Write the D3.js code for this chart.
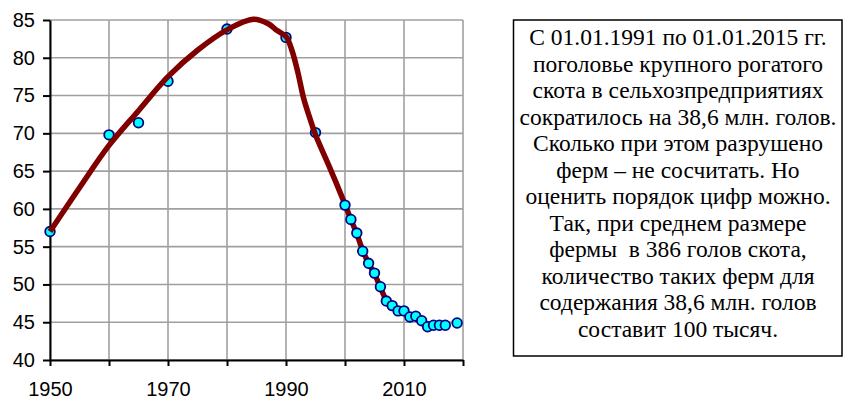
<!DOCTYPE html>
<html>
<head>
<meta charset="utf-8">
<script src="https://cdn.jsdelivr.net/npm/d3@7"></script>
<style>
  body { margin: 0; background: #fff; }
  svg { display: block; }
</style>
</head>
<body>
<div id="chart"></div>
<script>
const width = 843;
const height = 401;

// cattle head count, mln
const years = [1950, 1960, 1965, 1970, 1980, 1990, 1995,
  2000, 2001, 2002, 2003, 2004, 2005, 2006, 2007, 2008, 2009,
  2010, 2011, 2012, 2013, 2014, 2015, 2016, 2017, 2019];
const values = [57.0, 69.8, 71.4, 76.9, 83.8, 82.7, 70.1,
  60.5, 58.6, 56.8, 54.4, 52.8, 51.5, 49.7, 47.8, 47.2, 46.5,
  46.5, 45.7, 45.8, 45.2, 44.4, 44.6, 44.6, 44.6, 44.9];

// smoothed trend curve
const trendYears = [1950, 1955, 1960, 1965, 1970, 1975, 1980, 1984.5, 1987, 1988.5, 1990,
  1991, 1992, 1993, 1994, 1995, 1997.5, 2000, 2001, 2002, 2003, 2004, 2005, 2006, 2007];
const trendValues = [57.0, 62.8, 68.4, 73.0, 77.5, 81.0, 83.7, 85.1, 84.5, 83.6, 82.8,
  81.0, 78.1, 74.6, 72.1, 69.8, 65.3, 60.6, 58.6, 56.7, 54.5, 52.8, 51.4, 49.6, 47.8];

const xTicks = [1950, 1960, 1970, 1980, 1990, 2000, 2010, 2020];
const xLabels = [1950, 1970, 1990, 2010];
const yTicks = [40, 45, 50, 55, 60, 65, 70, 75, 80, 85];

const noteLines = [
  "С 01.01.1991 по 01.01.2015 гг.",
  "поголовье крупного рогатого",
  "скота в сельхозпредприятиях",
  "сократилось на 38,6 млн. голов.",
  "Сколько при этом разрушено",
  "ферм – не сосчитать. Но",
  "оценить порядок цифр можно.",
  "Так, при среднем размере",
  "фермы  в 386 голов скота,",
  "количество таких ферм для",
  "содержания 38,6 млн. голов",
  "составит 100 тысяч."
];

let svg = d3.select("#chart")
  .append("svg")
  .attr("width", width)
  .attr("height", height);

let x = d3.scaleLinear().domain([1950, 2020]).range([50, 463]);
let y = d3.scaleLinear().domain([40, 85]).range([360, 20]);

// grid
let grid = svg.append("g").attr("stroke", "#a0a0a0").attr("stroke-width", 1.6);
grid.selectAll("line.v")
  .data(xTicks)
  .enter().append("line")
    .attr("class", "v")
    .attr("x1", d => x(d)).attr("x2", d => x(d))
    .attr("y1", y(40)).attr("y2", y(85));
grid.selectAll("line.h")
  .data(yTicks)
  .enter().append("line")
    .attr("class", "h")
    .attr("x1", x(1950)).attr("x2", x(2020))
    .attr("y1", d => y(d)).attr("y2", d => y(d));

// axes
svg.append("g")
  .attr("transform", `translate(0,${y(40)})`)
  .call(d3.axisBottom(x)
    .tickValues(xTicks)
    .tickSize(6)
    .tickSizeOuter(0)
    .tickPadding(16)
    .tickFormat(d => xLabels.includes(d) ? d : ""));

svg.append("g")
  .attr("transform", `translate(${x(1950)},0)`)
  .call(d3.axisLeft(y)
    .tickValues(yTicks)
    .tickSize(7)
    .tickSizeOuter(0)
    .tickPadding(8));

svg.selectAll(".domain, .tick line")
  .attr("stroke", "#000")
  .attr("stroke-width", 2);
svg.selectAll(".tick text")
  .attr("fill", "#000")
  .style("font-family", "'Liberation Sans', Arial, sans-serif")
  .style("font-size", "20px");

let points = years.map((yr, i) => ({ year: yr, value: values[i] }));
let trend = trendYears.map((yr, i) => ({ year: yr, value: trendValues[i] }));

function drawPoints(data) {
  svg.append("g")
    .selectAll("circle")
    .data(data)
    .enter().append("circle")
      .attr("cx", d => x(d.year))
      .attr("cy", d => y(d.value))
      .attr("r", 4.8)
      .attr("fill", "#00ffff")
      .attr("stroke", "#000080")
      .attr("stroke-width", 1.8);
}

// early points sit under the trend line, later ones over it
drawPoints(points.filter(d => d.year < 2000));

let line = d3.line()
  .x(d => x(d.year))
  .y(d => y(d.value))
  .curve(d3.curveCatmullRom.alpha(0.5));

svg.append("path")
  .datum(trend)
  .attr("d", line)
  .attr("fill", "none")
  .attr("stroke", "#800000")
  .attr("stroke-width", 5.5)
  .attr("stroke-linejoin", "round");

drawPoints(points.filter(d => d.year >= 2000));

// note box
svg.append("rect")
  .attr("x", 513.5)
  .attr("y", 20)
  .attr("width", 328.5)
  .attr("height", 336)
  .attr("fill", "#fff")
  .attr("stroke", "#000")
  .attr("stroke-width", 1.5);

svg.append("g")
  .selectAll("text")
  .data(noteLines)
  .enter().append("text")
    .attr("x", 678)
    .attr("y", (d, i) => 45 + i * 26.5)
    .attr("text-anchor", "middle")
    .attr("fill", "#000")
    .attr("font-family", "Tinos, 'Liberation Serif', 'Noto Serif', 'DejaVu Serif', FreeSerif, 'Times New Roman', Times, serif")
    .attr("font-size", 23.5)
    .attr("xml:space", "preserve")
    .text(d => d);
</script>
</body>
</html>
